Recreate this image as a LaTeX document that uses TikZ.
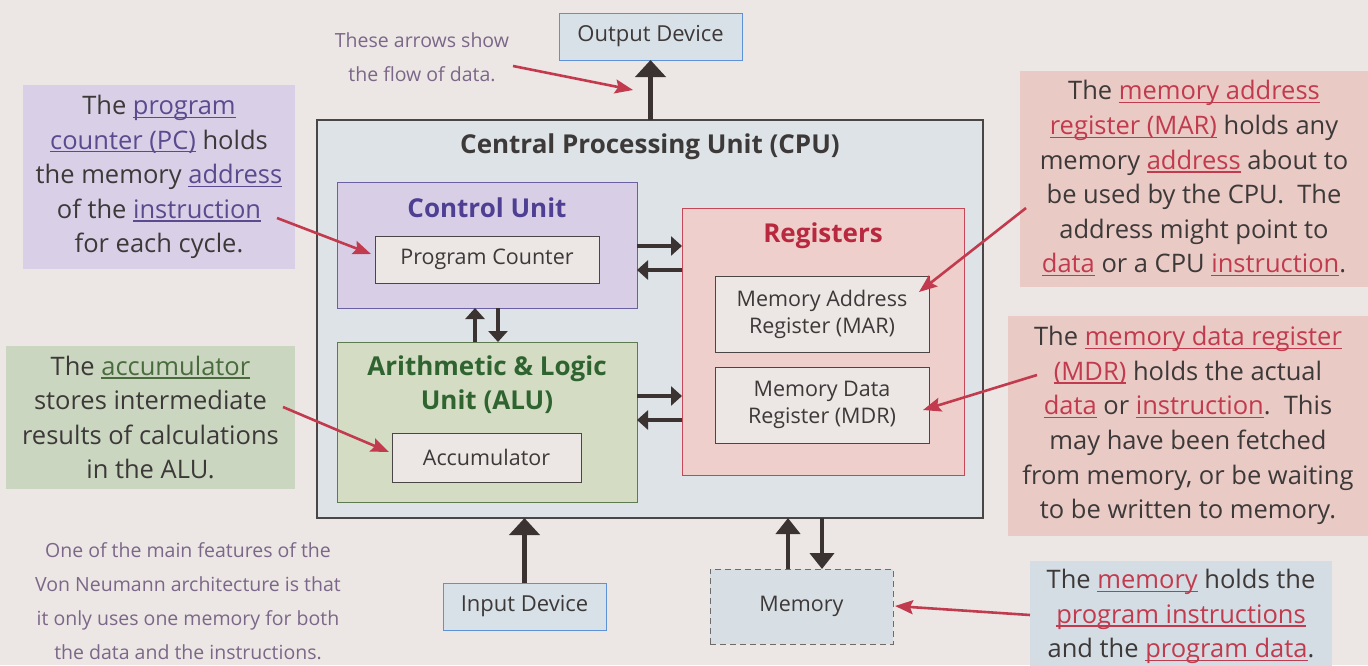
\documentclass[tikz,border=0pt]{standalone}
\usepackage{fontspec}
\setmainfont{Open Sans}
\usetikzlibrary{arrows.meta}
\definecolor{bg}{HTML}{ECE7E4}
\definecolor{txt}{HTML}{3D3939}
\definecolor{cpufill}{HTML}{DDE3E7}
\definecolor{cpuborder}{HTML}{4A4646}
\definecolor{cufill}{HTML}{D8CFE6}
\definecolor{cuborder}{HTML}{6D5FA6}
\definecolor{cutext}{HTML}{4E3F93}
\definecolor{alufill}{HTML}{D4DCC4}
\definecolor{aluborder}{HTML}{5F7A4F}
\definecolor{alutext}{HTML}{2F6430}
\definecolor{regfill}{HTML}{EFCFCB}
\definecolor{regborder}{HTML}{C64858}
\definecolor{regtext}{HTML}{B8283F}
\definecolor{innerfill}{HTML}{ECE7E5}
\definecolor{iofill}{HTML}{D9E1E8}
\definecolor{ioborder}{HTML}{5D93D6}
\definecolor{memfill}{HTML}{D8DFE4}
\definecolor{pcnote}{HTML}{D9D0E8}
\definecolor{accnote}{HTML}{CAD6C0}
\definecolor{rednote}{HTML}{E9CAC5}
\definecolor{memnote}{HTML}{D5DDE4}
\definecolor{arrdark}{HTML}{3B3331}
\definecolor{redarr}{HTML}{C23A4D}
\definecolor{hand}{HTML}{7B6789}
\definecolor{pcul}{HTML}{5A4A8E}
\definecolor{accul}{HTML}{4A6B3E}
\newcommand\ulx[1]{\setbox0\hbox{#1}\rlap{\rule[-3.4pt]{\wd0}{1.3pt}}\box0}
\tikzset{
  box/.style={rectangle, inner sep=0pt, outer sep=0pt, line width=1pt},
  inner/.style={box, draw=cpuborder, fill=innerfill, text=txt, align=center,
     font=\fontsize{21.5}{27}\selectfont},
  iobox/.style={box, draw=ioborder, fill=iofill, text=txt,
     font=\fontsize{22}{27}\selectfont},
  head/.style={inner sep=0pt, align=center, font=\bfseries\fontsize{26}{34}\selectfont},
  note/.style={box, align=center, text=txt, font=\fontsize{25.5}{34.6}\selectfont},
  handtext/.style={inner sep=0pt, align=center, text=hand, font=\fontsize{19.5}{34}\selectfont},
  bigarr/.style={draw=arrdark, line width=5pt, -{Triangle[width=30pt,length=17pt]}},
  memarr/.style={draw=arrdark, line width=4.5pt, -{Triangle[width=24pt,length=16pt]}},
  midarr/.style={draw=arrdark, line width=4pt, -{Triangle[width=19pt,length=11pt]}},
  redline/.style={draw=redarr, line width=2.6pt, -{Stealth[width=14pt,length=18pt,inset=3pt]}},
}
\begin{document}
\begin{tikzpicture}[x=1pt,y=-1pt]
\useasboundingbox (0,0) rectangle (1368,665);
\fill[bg] (0,0) rectangle (1368,665);

% CPU and its parts
\node[box, draw=cpuborder, line width=1.3pt, fill=cpufill, minimum width=666pt, minimum height=398pt] (cpu) at (650,319) {};
\node[head, text=txt] (cputitle) at (650,147) {Central Processing Unit (CPU)};

\node[box, draw=cuborder, fill=cufill, minimum width=300pt, minimum height=126pt] (cu) at (487,245) {};
\node[head, text=cutext] (cutitle) at (487,208) {Control Unit};
\node[inner, minimum width=224pt, minimum height=47pt] (pc) at (487,259.5) {Program Counter};

\node[box, draw=aluborder, fill=alufill, minimum width=300pt, minimum height=160pt] (alu) at (487,422) {};
\node[head, text=alutext] (alutitle) at (487,385) {Arithmetic \& Logic\\Unit (ALU)};
\node[inner, minimum width=189pt, minimum height=49pt] (acc) at (486.5,457.5) {Accumulator};

\node[box, draw=regborder, fill=regfill, minimum width=282pt, minimum height=267pt] (reg) at (823,341.5) {};
\node[head, text=regtext] (regtitle) at (823,236) {Registers};
\node[inner, minimum width=214pt, minimum height=76pt] (mar) at (822,314) {Memory Address\\Register (MAR)};
\node[inner, minimum width=214pt, minimum height=76pt] (mdr) at (822,405) {Memory Data\\Register (MDR)};

% devices
\node[iobox, minimum width=183pt, minimum height=47pt] (out) at (650.5,36.5) {Output Device};
\node[iobox, minimum width=163pt, minimum height=47pt] (in) at (524.5,606.5) {Input Device};
\node[box, draw=cpuborder!80, dashed, dash pattern=on 6pt off 4pt, fill=memfill, text=txt,
      font=\fontsize{21.5}{27}\selectfont, minimum width=183pt, minimum height=75pt] (mem) at (801.5,606.5) {Memory};

% data-flow arrows
\draw[bigarr] (cpu.north -| out.south) -- (out.south);
\draw[bigarr] (in.north) -- (in.north |- cpu.south);
\draw[memarr] ([xshift=-13.5pt]mem.north) -- ([xshift=-13.5pt]mem.north |- cpu.south);
\draw[memarr] ([xshift=20.5pt]mem.north |- cpu.south) -- ([xshift=20.5pt]mem.north);
\draw[midarr] ([yshift=-1pt]cu.east) -- ([yshift=-1pt]cu.east -| reg.west);
\draw[midarr] ([yshift=-25pt]cu.east -| reg.west) -- ([yshift=-25pt]cu.east);
\draw[midarr] ([yshift=26pt]alu.east) -- ([yshift=26pt]alu.east -| reg.west);
\draw[midarr] ([yshift=2pt]alu.east -| reg.west) -- ([yshift=2pt]alu.east);
\draw[midarr] ([xshift=-12pt]alu.north) -- ([xshift=-12pt]cu.south);
\draw[midarr] ([xshift=11pt]cu.south) -- ([xshift=11pt]alu.north);

% annotations
\node[note, fill=pcnote, minimum width=272pt, minimum height=184pt] (pcn) at (159,177)
  {The {\color{pcul}\ulx{program}}\\{\color{pcul}\ulx{counter (PC)}} holds\\the memory {\color{pcul}\ulx{address}}\\of the {\color{pcul}\ulx{instruction}}\\for each cycle.};
\node[note, fill=accnote, minimum width=289pt, minimum height=143pt] (accn) at (150.5,417.5)
  {The {\color{accul}\ulx{accumulator}}\\stores intermediate\\results of calculations\\in the ALU.};
\node[note, fill=rednote, minimum width=348pt, minimum height=216pt] (marn) at (1194,178.5)
  {The {\color{redarr}\ulx{memory address}}\\{\color{redarr}\ulx{register (MAR)}} holds any\\memory {\color{redarr}\ulx{address}} about to\\be used by the CPU.\ \ The\\address might point to\\{\color{redarr}\ulx{data}} or a CPU {\color{redarr}\ulx{instruction}}.};
\node[note, fill=rednote, minimum width=360pt, minimum height=220pt] (mdrn) at (1188,425.5)
  {The {\color{redarr}\ulx{memory data register}}\\{\color{redarr}\ulx{(MDR)}} holds the actual\\{\color{redarr}\ulx{data}} or {\color{redarr}\ulx{instruction}}.\ \ This\\may have been fetched\\from memory, or be waiting\\to be written to memory.};
\node[note, fill=memnote, minimum width=302pt, minimum height=112pt] (memn) at (1181,616.5)
  {The {\color{redarr}\ulx{memory}} holds the\\{\color{redarr}\ulx{program instructions}}\\and the {\color{redarr}\ulx{program data}}.};

\node[handtext] (flow) at (422,57) {These arrows show\\the flow of data.};
\node[handtext] (vn) at (188,601.5) {One of the main features of the\\Von Neumann architecture is that\\it only uses one memory for both\\the data and the instructions.};

% pointer arrows
\coordinate (flowA) at (513,66);   \coordinate (flowB) at (633,90);
\coordinate (pcA) at (277,218);    \coordinate (pcB) at (371,254);
\coordinate (accA) at (283,407);   \coordinate (accB) at (389,452);
\coordinate (marA) at (1026,208);  \coordinate (marB) at (919,292);
\coordinate (mdrA) at (1037,375);  \coordinate (mdrB) at (923,410);
\coordinate (memA) at (1030,615);  \coordinate (memB) at (895,606);
\draw[redline] (flowA) -- (flowB);
\draw[redline] (pcA) -- (pcB);
\draw[redline] (accA) -- (accB);
\draw[redline] (marA) -- (marB);
\draw[redline] (mdrA) -- (mdrB);
\draw[redline] (memA) -- (memB);
\end{tikzpicture}
\end{document}
